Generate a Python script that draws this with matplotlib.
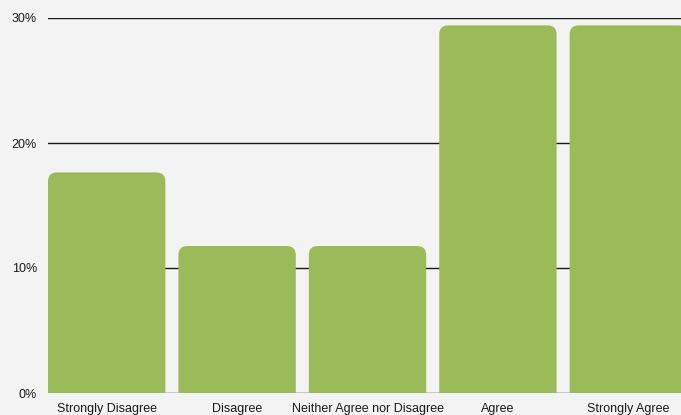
"""Survey response distribution bar chart."""
import matplotlib
matplotlib.use("Agg")
import matplotlib.pyplot as plt
from matplotlib.patches import FancyBboxPatch
from matplotlib.ticker import FuncFormatter

categories = ["Strongly Disagree", "Disagree", "Neither Agree nor Disagree",
              "Agree", "Strongly Agree"]
percent = [17.65, 11.76, 11.76, 29.41, 29.41]
yticks = [0, 10, 20, 30]

plt.rcParams["font.family"] = ["Liberation Sans", "DejaVu Sans"]

BG = "#f3f3f3"
BAR = "#9bbb59"
W = 0.9

fig = plt.figure(figsize=(6.81, 4.15), dpi=100, facecolor=BG)
ax = fig.add_axes([48 / 681, 22 / 415, 639 / 681, 375 / 415], facecolor=BG)
ax.set_xlim(-0.45, len(categories) - 0.55)
ax.set_ylim(0, 30)

for y in yticks:
    ax.axhline(y, color="#1a1a1a", lw=1, zorder=1)

# 圆角柱：底部延伸到 0 以下再被坐标轴裁掉
px_per_x = 639 / (len(categories) - 0.1)
px_per_y = 375 / 30
r_x = 9 / px_per_x
for i, v in enumerate(percent):
    p = FancyBboxPatch((i - W / 2, -3), W, v + 3,
                       boxstyle=f"round,pad=0,rounding_size={r_x}",
                       mutation_aspect=px_per_x / px_per_y,
                       facecolor=BAR, edgecolor="none", zorder=2)
    ax.add_patch(p)

ax.set_yticks(yticks)
ax.yaxis.set_major_formatter(FuncFormatter(lambda v, _: f"{v:.0f}%"))
ax.set_xticks(range(len(categories)))
ax.set_xticklabels(categories)
ax.tick_params(axis="both", length=0, labelsize=9, colors="#1a1a1a")
ax.tick_params(axis="y", pad=8)
ax.tick_params(axis="x", pad=7)
for s in ax.spines.values():
    s.set_visible(False)

fig.savefig("out.png", dpi=100, facecolor=BG)
